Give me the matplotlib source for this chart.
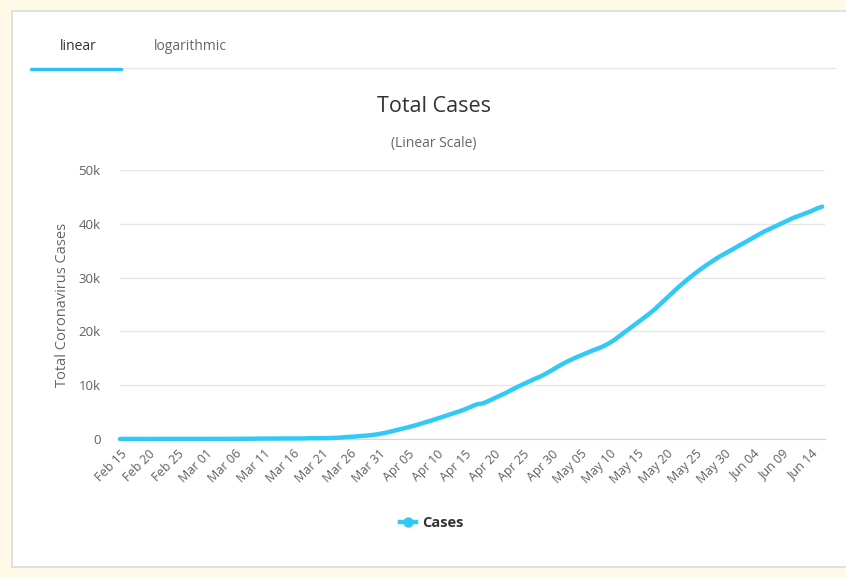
import numpy as np
import pandas as pd
import matplotlib
matplotlib.use("Agg")
import matplotlib.pyplot as plt
from matplotlib.patches import Rectangle
from matplotlib.lines import Line2D

plt.rcParams["font.family"] = ["Open Sans", "DejaVu Sans"]

# daily total cases, Feb 15 .. Jun 16 (2020)
dates = pd.date_range("2020-02-15", "2020-06-16", freq="D")
cases = [
    # Feb 15 - Feb 29
    8, 9, 9, 9, 9, 9, 9, 11, 13, 13, 13, 19, 19, 19, 21,
    # Mar 1 - Mar 31
    21, 21, 27, 27, 29, 29, 45, 45, 45, 74, 74, 85, 85, 85, 98, 98,
    98, 113, 140, 140, 153, 153, 198, 248, 333, 405, 470, 560, 650, 760, 920,
    # Apr 1 - Apr 30
    1130, 1380, 1640, 1900, 2170, 2450, 2750, 3080, 3400, 3750,
    4100, 4450, 4800, 5150, 5550, 6000, 6450, 6600, 7050, 7550,
    8050, 8550, 9100, 9650, 10150, 10650, 11150, 11600, 12150, 12750,
    # May 1 - May 31
    13400, 14000, 14550, 15050, 15500, 15950, 16400, 16800, 17250, 17800,
    18500, 19300, 20100, 20900, 21700, 22500, 23300, 24200, 25200, 26200,
    27200, 28200, 29100, 30000, 30850, 31650, 32400, 33100, 33800, 34400, 35000,
    # Jun 1 - Jun 16
    35600, 36200, 36800, 37400, 38000, 38600, 39100, 39600, 40100, 40600,
    41100, 41500, 41900, 42300, 42800, 43200,
]
y_ticks = [0, 10000, 20000, 30000, 40000, 50000]
y_tick_labels = ["0", "10k", "20k", "30k", "40k", "50k"]
tab_labels = ["linear", "logarithmic"]

W, H = 846, 578
fig = plt.figure(figsize=(W / 100, H / 100), dpi=100)
fig.patch.set_facecolor("#fffae8")


def fx(px):
    return px / W


def fy(py):
    return 1 - py / H


# white panel
fig.patches.append(Rectangle((fx(12), fy(567)), fx(846 - 12 + 5), (567 - 11) / H,
                             transform=fig.transFigure, facecolor="white",
                             edgecolor="#dcdcdc", linewidth=1.2, zorder=-5))

# tabs
fig.text(fx(78), fy(46), tab_labels[0], ha="center", va="center", fontsize=10, color="#333333")
fig.text(fx(190), fy(46), tab_labels[1], ha="center", va="center", fontsize=10, color="#666666")
fig.add_artist(Line2D([fx(121), fx(835)], [fy(68), fy(68)], color="#e8e8e8", lw=1))
fig.add_artist(Line2D([fx(31), fx(121)], [fy(69), fy(69)], color="#29c3f5", lw=2.5,
                      solid_capstyle="round"))

# titles
fig.text(fx(434), fy(106), "Total Cases", ha="center", va="center", fontsize=15.5, color="#333333")
fig.text(fx(434), fy(143), "(Linear Scale)", ha="center", va="center", fontsize=10, color="#666666")

ax = fig.add_axes([fx(120), fy(439), fx(825 - 120), (439 - 170) / H])
ax.set_facecolor("none")
days = np.arange(len(cases))
ax.plot(days, cases, color="#33c9f7", lw=3.2, solid_capstyle="round", solid_joinstyle="round",
        zorder=3, label="Cases", clip_on=False)

ax.set_xlim(0, 122.5)
ax.set_ylim(0, 50000)
ax.set_yticks(y_ticks)
ax.set_yticklabels(y_tick_labels)
ax.grid(axis="y", color="#e6e6e6", lw=1)
ax.set_axisbelow(True)

tick_days = days[::5]
ax.set_xticks(tick_days)
ax.set_xticklabels([dates[d].strftime("%b %d") for d in tick_days], rotation=45,
                   ha="right", va="top", rotation_mode="anchor")

for s in ["top", "right", "left"]:
    ax.spines[s].set_visible(False)
ax.spines["bottom"].set_color("#ccd6eb")
ax.tick_params(axis="both", length=0, colors="#606060", labelsize=9)
ax.tick_params(axis="y", labelsize=9.5, pad=14)
ax.tick_params(axis="x", pad=6)
ax.set_ylabel("Total Coronavirus Cases", color="#666666", fontsize=10.5, labelpad=6)

fig.legend(handles=[Line2D([], [], color="#33c9f7", lw=3.2, marker="o", markersize=6.5)],
           labels=["Cases"], loc="center", bbox_to_anchor=(fx(432), fy(523)),
           frameon=False, handlelength=1.1, handletextpad=0.4, labelcolor="#333333",
           prop={"weight": "bold", "size": 10.5})

fig.savefig("out.png", dpi=100, facecolor=fig.get_facecolor())
